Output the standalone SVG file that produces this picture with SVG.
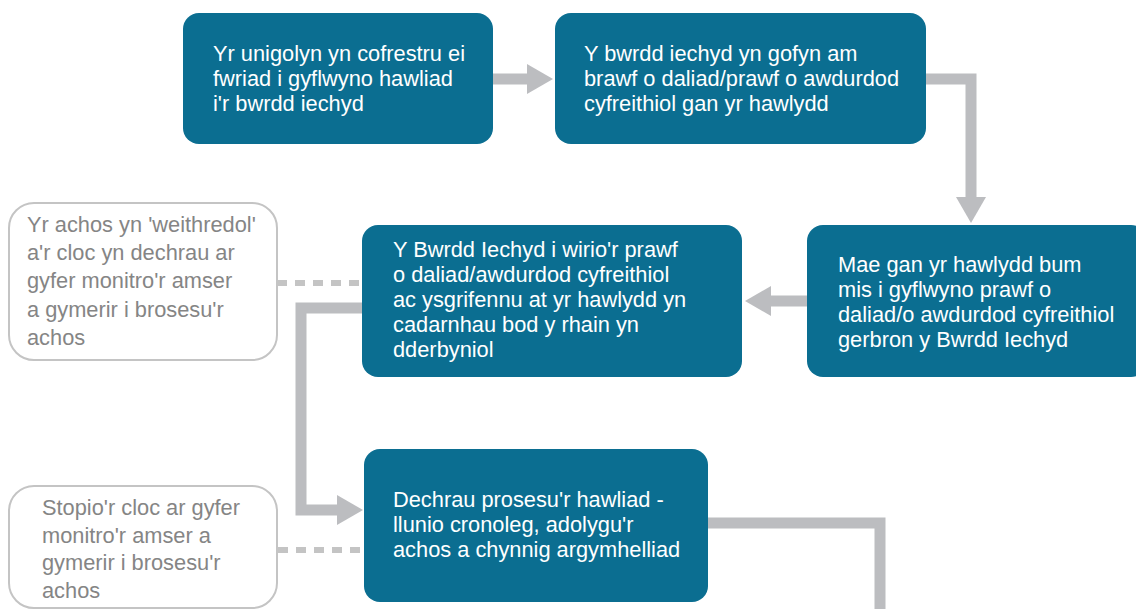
<svg xmlns="http://www.w3.org/2000/svg" width="1136" height="609" viewBox="0 0 1136 609">
  <style>
    .box { fill: #0b6e91; }
    .note { fill: #ffffff; stroke: #c4c4c4; stroke-width: 2; }
    .t { font-family: "Liberation Sans", Arial, sans-serif; font-size: 21.8px; fill: #ffffff; }
    .g { font-family: "Liberation Sans", Arial, sans-serif; font-size: 21.8px; fill: #858585; }
    .conn { fill: none; stroke: #bcbdc0; stroke-width: 11; stroke-linejoin: miter; stroke-linecap: butt; }
    .dash { fill: none; stroke: #c4c4c4; stroke-width: 6; stroke-dasharray: 10 8; }
  </style>
  <defs>
    <marker id="head" markerUnits="userSpaceOnUse" markerWidth="26" markerHeight="30" viewBox="0 0 26 30" refX="0" refY="15" orient="auto">
      <path d="M0 0 L26 15 L0 30 Z" fill="#bcbdc0"/>
    </marker>
  </defs>
  <rect width="1136" height="609" fill="#ffffff"/>

  <g id="connectors">
    <path class="conn" d="M493 79 H527" marker-end="url(#head)"/>
    <path class="conn" d="M925 79 H971 V197" marker-end="url(#head)"/>
    <path class="conn" d="M807 301 H771" marker-end="url(#head)"/>
    <path class="conn" d="M362 308 H301 V510 H337" marker-end="url(#head)"/>
    <path class="conn" d="M708 523 H880 V615"/>
    <path class="dash" d="M277 283 H362"/>
    <path class="dash" d="M278 550 H364"/>
  </g>

  <g id="node-register">
    <rect class="box" x="183" y="13" width="310" height="131" rx="16"/>
    <text class="t"><tspan x="213" y="61">Yr unigolyn yn cofrestru ei</tspan><tspan x="213" y="86">fwriad i gyflwyno hawliad</tspan><tspan x="213" y="111">i'r bwrdd iechyd</tspan></text>
  </g>

  <g id="node-request">
    <rect class="box" x="555" y="13" width="371" height="131" rx="16"/>
    <text class="t"><tspan x="584" y="61">Y bwrdd iechyd yn gofyn am</tspan><tspan x="584" y="86">brawf o daliad/prawf o awdurdod</tspan><tspan x="584" y="111">cyfreithiol gan yr hawlydd</tspan></text>
  </g>

  <g id="node-five-months">
    <rect class="box" x="807" y="225" width="340" height="152" rx="16"/>
    <text class="t"><tspan x="838" y="272">Mae gan yr hawlydd bum</tspan><tspan x="838" y="297">mis i gyflwyno prawf o</tspan><tspan x="838" y="322">daliad/o awdurdod cyfreithiol</tspan><tspan x="838" y="347">gerbron y Bwrdd Iechyd</tspan></text>
  </g>

  <g id="node-check">
    <rect class="box" x="362" y="225" width="380" height="152" rx="16"/>
    <text class="t"><tspan x="393" y="257">Y Bwrdd Iechyd i wirio'r prawf</tspan><tspan x="393" y="282">o daliad/awdurdod cyfreithiol</tspan><tspan x="393" y="307">ac ysgrifennu at yr hawlydd yn</tspan><tspan x="393" y="332">cadarnhau bod y rhain yn</tspan><tspan x="393" y="357">dderbyniol</tspan></text>
  </g>

  <g id="node-process">
    <rect class="box" x="364" y="449" width="344" height="153" rx="16"/>
    <text class="t"><tspan x="393" y="507">Dechrau prosesu'r hawliad -</tspan><tspan x="393" y="532">llunio cronoleg, adolygu'r</tspan><tspan x="393" y="557">achos a chynnig argymhelliad</tspan></text>
  </g>

  <g id="note-start">
    <rect class="note" x="9" y="203" width="268" height="157" rx="25"/>
    <text class="g"><tspan x="27" y="232">Yr achos yn 'weithredol'</tspan><tspan x="27" y="260">a'r cloc yn dechrau ar</tspan><tspan x="27" y="288">gyfer monitro'r amser</tspan><tspan x="27" y="317">a gymerir i brosesu'r</tspan><tspan x="27" y="345">achos</tspan></text>
  </g>

  <g id="note-stop">
    <rect class="note" x="9" y="486" width="268" height="122" rx="25"/>
    <text class="g"><tspan x="42" y="515">Stopio'r cloc ar gyfer</tspan><tspan x="42" y="543">monitro'r amser a</tspan><tspan x="42" y="570">gymerir i brosesu'r</tspan><tspan x="42" y="598">achos</tspan></text>
  </g>
</svg>
